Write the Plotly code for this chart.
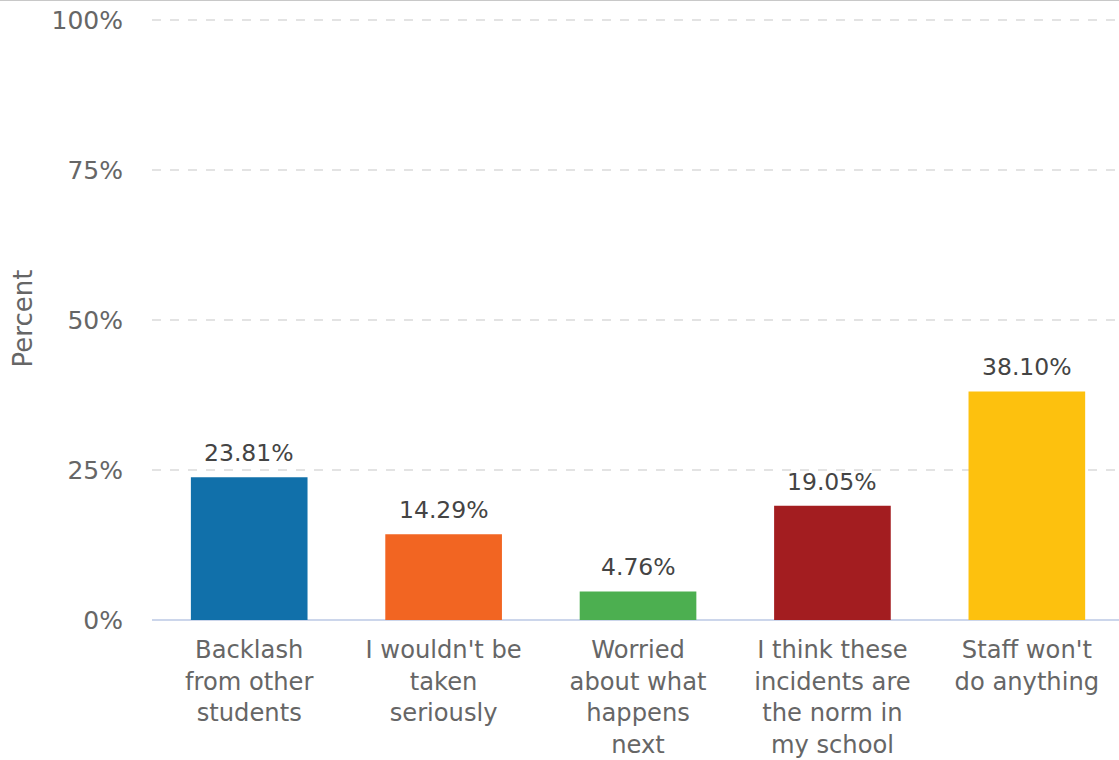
import plotly.graph_objects as go

categories = [
    "Backlash<br>from other<br>students",
    "I wouldn't be<br>taken<br>seriously",
    "Worried<br>about what<br>happens<br>next",
    "I think these<br>incidents are<br>the norm in<br>my school",
    "Staff won't<br>do anything",
]
percent = [23.81, 14.29, 4.76, 19.05, 38.10]
colors = ["#1170aa", "#f26522", "#4caf50", "#a31d20", "#fdc10e"]
y_ticks = [0, 25, 50, 75, 100]
y_tick_labels = ["0%", "25%", "50%", "75%", "100%"]

FONT = "DejaVu Sans"

fig = go.Figure(
    go.Bar(
        x=categories,
        y=percent,
        marker=dict(color=colors, line=dict(width=0)),
        width=0.6,
        hoverinfo="skip",
    )
)

# value labels above each bar
for cat, val in zip(categories, percent):
    fig.add_annotation(
        x=cat, y=val, text=f"{val:.2f}%", showarrow=False,
        yanchor="bottom", yshift=8,
        font=dict(family=FONT, size=23.5, color="#444444"),
    )

# thin grey rule along the top edge of the page
fig.add_shape(
    type="line", xref="paper", yref="paper",
    x0=-0.2, x1=1.1, y0=1.028, y1=1.028,
    line=dict(color="#c8c8c8", width=2),
)

fig.update_layout(
    width=1119, height=760,
    margin=dict(l=152, r=0, t=17, b=140, autoexpand=False),
    paper_bgcolor="white", plot_bgcolor="white",
    showlegend=False,
    font=dict(family=FONT, color="#666666"),
    xaxis=dict(
        type="category",
        range=[-0.5, 4.474],
        automargin=False,
        showgrid=False,
        showline=False,
        zeroline=False,
        ticks="",
        tickfont=dict(family=FONT, size=24.2, color="#666666"),
        ticklabelstandoff=13,
    ),
    yaxis=dict(
        range=[0, 100.5],
        automargin=False,
        tickvals=y_ticks,
        ticktext=y_tick_labels,
        showgrid=True,
        gridcolor="#e3e3e3",
        griddash="dash",
        gridwidth=1.5,
        zeroline=True,
        zerolinecolor="#ccd6eb",
        zerolinewidth=2,
        ticks="",
        tickfont=dict(family=FONT, size=25, color="#666666"),
        ticklabelstandoff=28,
        title=dict(text="Percent", font=dict(family=FONT, size=26, color="#666666"), standoff=11),
    ),
)

fig.write_html("out.html")
